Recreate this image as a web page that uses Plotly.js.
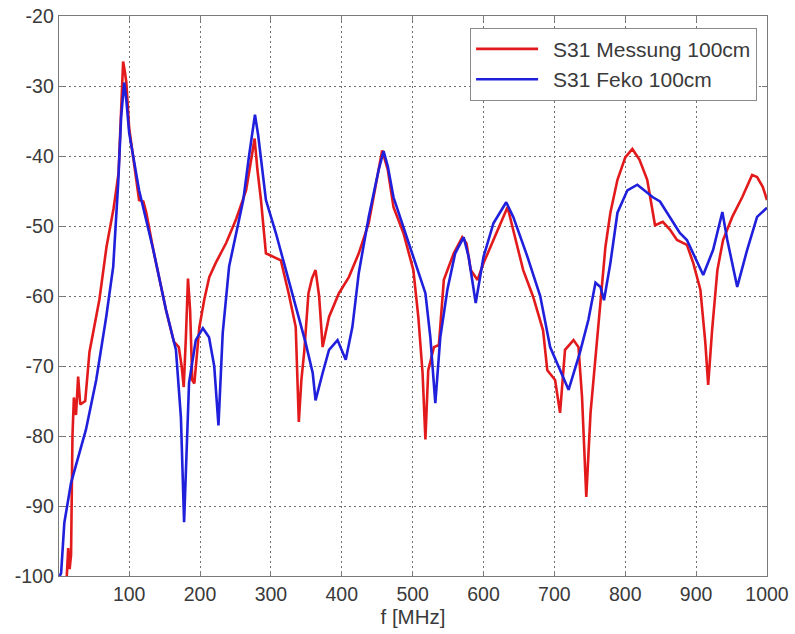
<!DOCTYPE html>
<html>
<head>
<meta charset="utf-8">
<script src="https://cdn.plot.ly/plotly-3.0.1.min.js"></script>
<style>html,body{margin:0;padding:0;background:#fff;}#chart{width:795px;height:634px;}</style>
</head>
<body>
<div id="chart"></div>
<script>
// S31 Messung 100cm (red)
const messungF = [12,14,16,18,20,22,25,28,31,38,44,58,68,78,85,89,91.5,94,96,100,108,114,120,124,134,152,163,170,174,177,180,183,186,189,192,199,206,213,222,237,251,265,273,277,281,286,293,305,314,325,335,339.4,343,347,353,358,363,368,373,382,396,410,424,438,450,457,465,473,487,501,508,514,518,522,530,537,544,558,570,576,582,591.5,600,614,627,634,642,656,670,684,690,701,708,715,727,734,739,745,751,755,761,765,772,779,789,800,810,820,831,842,853,863,873,887,896,906,913,917,922.5,930,938,951,965,979,986,994,1000];
const messungDb = [-100,-96,-99,-97,-80,-74.5,-77,-71.5,-75.5,-75,-68,-60.5,-53,-47.5,-42.5,-31,-26.5,-28,-29.5,-36,-42,-46.3,-46.5,-48,-53.4,-62,-66.5,-67.3,-70,-73,-66,-57.5,-62,-72,-72.5,-64.5,-60.5,-57.3,-55.3,-52.4,-49,-44.9,-40,-37.5,-42,-46.3,-53.9,-54.5,-54.9,-59.6,-64.4,-78,-72,-68,-59.6,-57.5,-56.3,-60,-67.3,-63,-59.6,-57.3,-53.9,-49.6,-43,-39.2,-42,-47.3,-51,-56.3,-63,-71,-80.5,-70.6,-67.3,-67,-57.7,-53.9,-51.6,-52.5,-56.3,-57.7,-55.3,-52,-48.7,-47.3,-50.6,-56.3,-60.1,-64.9,-70.6,-72,-76.7,-67.7,-66.3,-67.3,-74.4,-88.7,-76.7,-72,-64.9,-60.1,-53,-48.1,-43.4,-40.2,-39,-40.5,-43.4,-49.9,-49.4,-50.5,-52,-52.7,-55.3,-59.1,-66.7,-72.7,-64.9,-56.3,-52,-48.7,-45.9,-42.7,-43,-44.4,-46.3];

// S31 Feko 100cm (blue)
const fekoF = [2,4,8.5,18,39,53.5,67.6,77.5,84.5,88.7,93,96,100,114,134,152,166,173,177.5,180,182,184.5,194,204,212.7,220,226,232,241,251,261,269,277.5,282,293,307,321,335,349,359,363,373,382,394,405.6,415,424,438,452,459,465,473,493,507,518,525,532,539,549,560,572,579,589,600,614,632,642,662,680,694,708,720,736,748,758,765,770,779,789,803,817,839,849,863,877,887,901,910,924,937,944,958,972,986,1000];
const fekoDb = [-100,-99.6,-92.4,-86.7,-79.1,-72,-63,-55.8,-43.9,-34.4,-29.5,-32,-36.7,-44.9,-53.4,-62,-67.7,-77.3,-92.3,-85,-77.3,-72.4,-66.3,-64.6,-65.9,-70,-78.5,-65.3,-55.8,-51,-46.3,-40.1,-34.1,-37,-46.3,-51,-56.3,-61.6,-66.7,-71,-74.9,-71,-67.7,-66.3,-69.1,-64.4,-56.7,-48.7,-42,-39.3,-41.5,-45.9,-52,-56.3,-59.6,-65.9,-75.3,-65.9,-59.1,-53.9,-51.6,-54.4,-61,-54.4,-49.6,-46.6,-48.7,-54.4,-60,-67.3,-70.6,-73.4,-68.1,-63.4,-58.1,-58.7,-60.6,-55.3,-48.1,-44.9,-44.1,-45.9,-46.5,-48.7,-51,-52,-54.9,-57,-53.4,-48,-52,-58.7,-53.4,-48.7,-47.4];

const seriesNames = ['S31 Messung 100cm', 'S31 Feko 100cm'];
const xTickVals = [100,200,300,400,500,600,700,800,900,1000];
const yTickVals = [-20,-30,-40,-50,-60,-70,-80,-90,-100];
const yTickText = ['-20','-30','-40','-50','-60','-70','-80','-90','-100'];

const traces = [
  {x: messungF, y: messungDb, name: seriesNames[0], type: 'scatter', mode: 'lines',
   line: {color: '#e31a1c', width: 2.6}},
  {x: fekoF, y: fekoDb, name: seriesNames[1], type: 'scatter', mode: 'lines',
   line: {color: '#1f1fdc', width: 2.6}}
];

const fontFam = 'Liberation Sans, Arial, sans-serif';
const axisCommon = {
  showline: true, linecolor: '#7a7a7a', linewidth: 1.3, mirror: 'ticks',
  ticks: 'inside', ticklen: 5, tickcolor: '#7a7a7a', tickwidth: 1,
  showgrid: true, gridcolor: '#707070', gridwidth: 1, griddash: '2px,3px',
  zeroline: false,
  tickfont: {family: fontFam, size: 19.5, color: '#3a3a3a'}
};

const layout = {
  width: 795, height: 634,
  margin: {l: 59, r: 28, t: 16, b: 58},
  paper_bgcolor: '#ffffff', plot_bgcolor: '#ffffff',
  showlegend: true,
  xaxis: Object.assign({}, axisCommon, {
    range: [1, 1000], tickvals: xTickVals,
    title: {text: 'f [MHz]', font: {family: fontFam, size: 20.5, color: '#3a3a3a'}, standoff: 6}
  }),
  yaxis: Object.assign({}, axisCommon, {
    range: [-100, -20], tickvals: yTickVals, ticktext: yTickText
  }),
  legend: {
    x: 0.986, xanchor: 'right', y: 0.979, yanchor: 'top',
    bgcolor: '#ffffff', bordercolor: '#8a8a8a', borderwidth: 1,
    font: {family: fontFam, size: 21, color: '#3a3a3a'},
    itemwidth: 72, tracegroupgap: 0
  }
};

Plotly.newPlot('chart', traces, layout, {displayModeBar: false, staticPlot: true}).then(function (gd) {
  // lengthen the legend line samples to match the reference legend
  gd.querySelectorAll('.legend .legendlines path').forEach(function (p) {
    p.setAttribute('d', 'M5,0h62');
  });
});
</script>
</body>
</html>
